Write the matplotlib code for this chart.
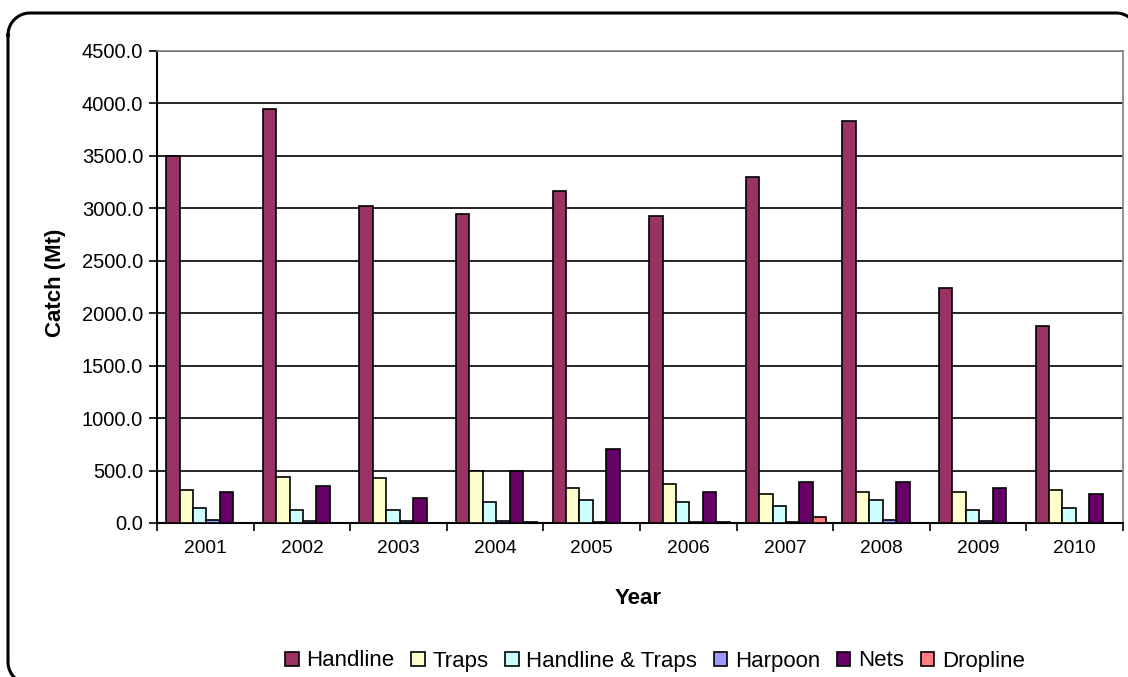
import matplotlib
matplotlib.use("Agg")
import matplotlib.pyplot as plt
from matplotlib.patches import Patch
from matplotlib.lines import Line2D
import numpy as np

plt.rcParams['font.family'] = ['Liberation Sans', 'DejaVu Sans']

years = ["2001", "2002", "2003", "2004", "2005", "2006", "2007", "2008", "2009", "2010"]
series_names = ["Handline", "Traps", "Handline & Traps", "Harpoon", "Nets", "Dropline"]
handline = [3500, 3950, 3020, 2950, 3170, 2930, 3300, 3830, 2240, 1880]
traps = [314, 441, 428, 494, 337, 370, 278, 298, 294, 318]
handline_traps = [147, 127, 127, 200, 220, 200, 164, 220, 127, 147]
harpoon = [33, 15, 15, 15, 13, 13, 13, 33, 15, 0]
nets = [294, 353, 242, 494, 705, 298, 389, 389, 333, 278]
dropline = [0, 0, 0, 12, 0, 10, 56, 0, 0, 0]
colors = ["#993366", "#FFFFCC", "#CCFFFF", "#9999FF", "#660066", "#FF8080"]
yticks = [0, 500, 1000, 1500, 2000, 2500, 3000, 3500, 4000, 4500]

W, H = 1128, 677
fig = plt.figure(figsize=(W / 100, H / 100), dpi=100)
ax = fig.add_axes([157 / W, 1 - 523 / H, (1123 - 157) / W, (523 - 51) / H])

data = [handline, traps, handline_traps, harpoon, nets, dropline]
x = np.arange(len(years))
bw = 0.139
start = -0.405
for k, (name, vals, c) in enumerate(zip(series_names, data, colors)):
    ax.bar(x + start + k * bw, vals, width=bw, align='edge', color=c,
           edgecolor='black', linewidth=1.2, label=name, zorder=3)

ax.set_xlim(-0.5, len(years) - 0.5)
ax.set_ylim(0, 4500)
ax.set_yticks(yticks)
ax.set_yticklabels([f"{v:.1f}" for v in yticks], fontsize=14.5)
ax.yaxis.grid(True, color='black', linewidth=1.2, zorder=0)
ax.set_xticks(x)
ax.set_xticklabels(years, fontsize=13.8)
ax.tick_params(axis='x', length=0, pad=12)
ax.set_xticks(np.arange(-0.5, len(years)), minor=True)
ax.tick_params(axis='x', which='minor', length=6, width=1.2, color='black')
ax.tick_params(axis='y', length=6, width=1.2, pad=4)
for s in ['top', 'right']:
    ax.spines[s].set_color('#808080')
    ax.spines[s].set_linewidth(1.2)
for s in ['left', 'bottom']:
    ax.spines[s].set_color('black')
    ax.spines[s].set_linewidth(1.5)

fig.text(55 / W, 1 - 283 / H, "Catch (Mt)", rotation=90, ha='center', va='center',
         fontsize=16, fontweight='bold')
fig.text(638 / W, 1 - 598 / H, "Year", ha='center', va='center',
         fontsize=16, fontweight='bold')

handles = [Patch(facecolor=c, edgecolor='black', linewidth=1.2) for c in colors]
fig.legend(handles, series_names, loc='center', bbox_to_anchor=(655 / W, 1 - 661 / H),
           ncol=6, frameon=False, fontsize=16, handlelength=0.6, handleheight=0.6,
           handletextpad=0.35, columnspacing=0.75, borderaxespad=0)

# rounded outer frame (pixel coordinates, origin top-left), converted to figure fraction
L, T, R, B, r = 8, 13, 1138, 684, 22
pts = []
def arc(cx, cy, a0, a1):
    for a in np.linspace(a0, a1, 20):
        pts.append((cx + r * np.cos(a), cy + r * np.sin(a)))
arc(L + r, T + r, np.pi, 1.5 * np.pi)          # top-left
arc(R - r, T + r, 1.5 * np.pi, 2 * np.pi)      # top-right
arc(R - r, B - r, 0, 0.5 * np.pi)              # bottom-right
arc(L + r, B - r, 0.5 * np.pi, np.pi)          # bottom-left
pts.append(pts[0])
px = np.array([p[0] for p in pts]) / W
py = 1 - np.array([p[1] for p in pts]) / H
fig.add_artist(Line2D(px, py, transform=fig.transFigure, color='black',
                      linewidth=2.2, solid_joinstyle='round'))

fig.savefig("out.png", dpi=100)
